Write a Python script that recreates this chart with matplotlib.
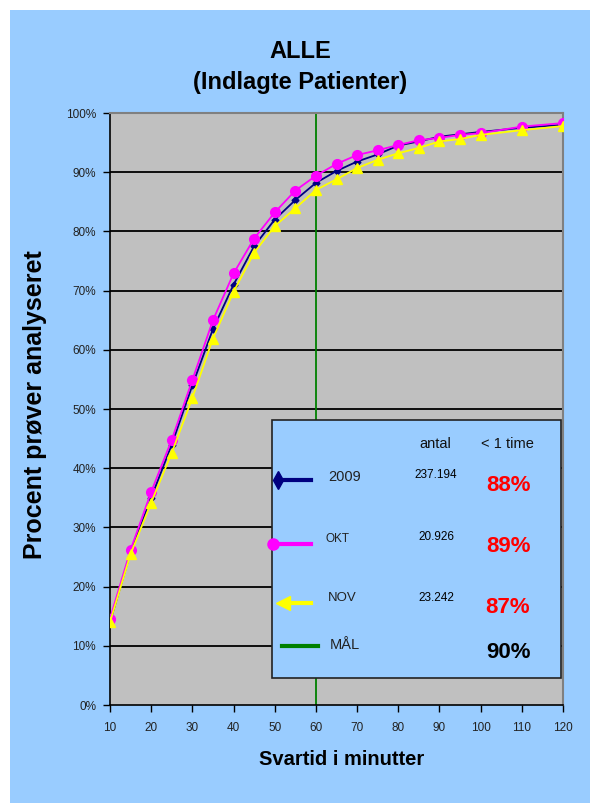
import matplotlib
matplotlib.use('Agg')
import matplotlib.pyplot as plt
from matplotlib.patches import Rectangle
from matplotlib.lines import Line2D

plt.rcParams['font.family'] = ['Liberation Sans', 'DejaVu Sans']

minutes = [10, 15, 20, 25, 30, 35, 40, 45, 50, 55, 60, 65, 70, 75, 80, 85, 90, 95, 100, 110, 120]
y2009 = [14.0, 25.8, 35.0, 44.0, 54.0, 63.5, 71.0, 77.5, 82.0, 85.3, 88.2, 90.2, 91.8, 93.0, 94.5,
         95.2, 96.0, 96.4, 96.8, 97.5, 98.0]
okt = [14.6, 26.2, 36.0, 44.8, 54.9, 65.0, 72.9, 78.8, 83.2, 86.9, 89.4, 91.4, 92.9, 93.7, 94.6,
       95.4, 95.8, 96.3, 96.6, 97.7, 98.3]
nov = [14.0, 25.5, 34.2, 42.6, 51.9, 61.9, 69.8, 76.4, 80.9, 83.9, 87.0, 88.8, 90.7, 92.1, 93.2,
       94.1, 95.2, 95.6, 96.3, 97.1, 97.8]
goal_minutes = 60

series_names = ['2009', 'OKT', 'NOV', 'MÅL']
antal = ['237.194', '20.926', '23.242', '']
within_hour = ['88%', '89%', '87%', '90%']

bg = '#99CCFF'
fig = plt.figure(figsize=(5.9, 8.05), dpi=100, facecolor='white')
fig.add_artist(Rectangle((10 / 590, 2 / 805), 1 - 10 / 590, 793 / 805,
                         transform=fig.transFigure, facecolor=bg, edgecolor='none', zorder=-5))

ax = fig.add_axes([110 / 590, 1 - 705 / 805, 453 / 590, 592 / 805])
ax.set_zorder(2)
ax.set_facecolor('#C0C0C0')

ax.plot(minutes, y2009, color='#000080', lw=1.3, marker='D', ms=3.5, zorder=3)
ax.plot(minutes, okt, color='#FF00FF', lw=1.3, marker='o', ms=7, zorder=4)
ax.plot(minutes, nov, color='#FFFF00', lw=1.3, marker='^', ms=7, zorder=5)
ax.axvline(goal_minutes, color='#008000', lw=1.3, zorder=2)

ax.set_xlim(10, 120)
ax.set_ylim(0, 100)
ax.set_xticks(range(10, 121, 10))
ax.set_yticks(range(0, 101, 10))
ax.set_yticklabels(['%d%%' % v for v in range(0, 101, 10)])
for v in range(10, 100, 10):
    ax.axhline(v, color='black', lw=1.3, zorder=1)

ax.tick_params(axis='both', direction='out', length=5, width=1, labelsize=8.5,
               labelcolor='#222222')
ax.tick_params(axis='x', pad=7)
ax.tick_params(axis='y', pad=5)
for side in ['left', 'bottom']:
    ax.spines[side].set_color('black')
    ax.spines[side].set_linewidth(1.2)
for side in ['top', 'right']:
    ax.spines[side].set_color('#808080')
    ax.spines[side].set_linewidth(1.5)

# titles and axis labels
fig.text(300 / 590, 1 - 51 / 805, 'ALLE', ha='center', va='center', fontsize=17, fontweight='bold')
fig.text(300 / 590, 1 - 83 / 805, '(Indlagte Patienter)', ha='center', va='center',
         fontsize=17, fontweight='bold')
fig.text(342 / 590, 1 - 765 / 805, 'Svartid i minutter', ha='center', va='baseline',
         fontsize=14.5, fontweight='bold')
fig.text(35 / 590, 1 - 405 / 805, 'Procent prøver analyseret', ha='center', va='center',
         rotation=90, fontsize=18, fontweight='bold')

# legend box with counts and share answered within one hour
ax.add_patch(Rectangle((0.3576, 0.0456), 0.638, 0.4358, transform=ax.transAxes,
                       facecolor=bg, edgecolor='#222222', lw=1.2, zorder=6))
ax.text(0.7174, 0.4409, 'antal', transform=ax.transAxes, ha='center', va='center',
        fontsize=10.5, color='#111111', zorder=7)
ax.text(0.8764, 0.4409, '< 1 time', transform=ax.transAxes, ha='center', va='center',
        fontsize=10.5, color='#111111', zorder=7)

handles = [
    dict(x=(0.3709, 0.4437), y=0.380, color='#000080', marker='d', ms=9),
    dict(x=(0.3598, 0.4437), y=0.272, color='#FF00FF', marker='o', ms=8),
    dict(x=(0.3819, 0.4437), y=0.1723, color='#FFFF00', marker='<', ms=10),
    dict(x=(0.3797, 0.4592), y=0.0997, color='#008000', marker=None, ms=0),
]
name_pos = [(0.4812, 0.385, 10.5), (0.4768, 0.2804, 8.5), (0.4812, 0.1807, 9.5), (0.4857, 0.1014, 10.5)]
num_y = [0.3885, 0.2838, 0.1807]
pct_y = [0.3716, 0.2669, 0.1655, 0.0895]

for i, h in enumerate(handles):
    ax.add_line(Line2D(list(h['x']), [h['y'], h['y']], transform=ax.transAxes,
                       color=h['color'], lw=3, zorder=7))
    if h['marker']:
        ax.add_line(Line2D([h['x'][0]], [h['y']], transform=ax.transAxes, color=h['color'],
                           marker=h['marker'], ms=h['ms'], lw=0, zorder=8))
    nx, ny, fs = name_pos[i]
    ax.text(nx, ny, series_names[i], transform=ax.transAxes, ha='left', va='center',
            fontsize=fs, color='#222222', zorder=7)
    if antal[i]:
        ax.text(0.7196, num_y[i], antal[i], transform=ax.transAxes, ha='center', va='center',
                fontsize=8.5, zorder=7)
    ax.text(0.8786, pct_y[i], within_hour[i], transform=ax.transAxes, ha='center', va='center',
            fontsize=16, fontweight='bold', color='black' if i == 3 else '#FF0000', zorder=7)

fig.savefig('out.png', dpi=100, facecolor='white')
